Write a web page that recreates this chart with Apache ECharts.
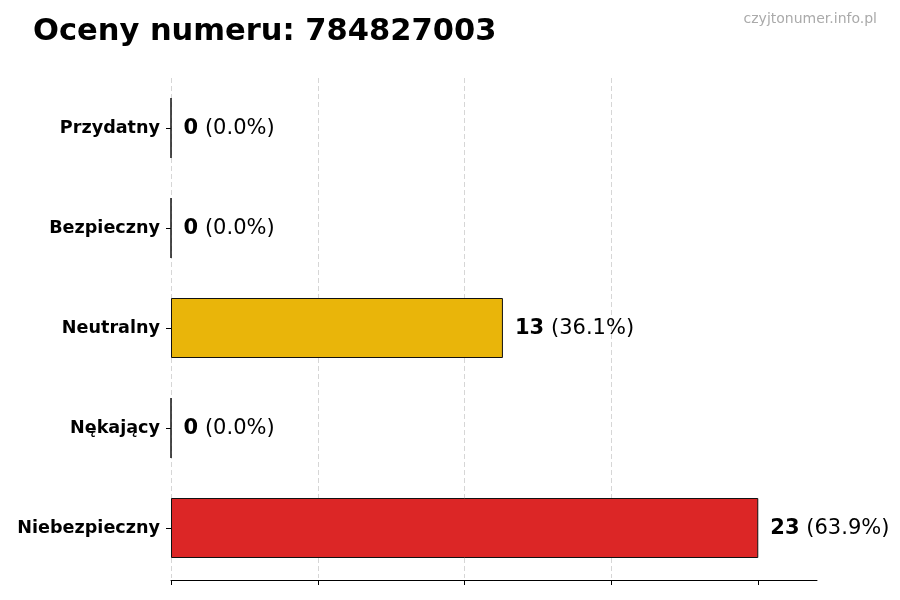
<!DOCTYPE html>
<html>
<head>
<meta charset="utf-8">
<script src="https://cdn.jsdelivr.net/npm/echarts@6/dist/echarts.min.js"></script>
<style>
  html, body { margin: 0; padding: 0; background: #fff; }
  #chart { width: 900px; height: 600px; }
</style>
</head>
<body>
<div id="chart"></div>
<script>
const categories = ['Przydatny', 'Bezpieczny', 'Neutralny', 'Nękający', 'Niebezpieczny'];
const counts = [0, 0, 13, 0, 23];
const barColors = ['#2e9e44', '#3a7bd5', '#e9b50a', '#f07b1c', '#dc2626'];
const titleText = 'Oceny numeru: 784827003';
const siteText = 'czyjtonumer.info.pl';

const total = counts.reduce((sum, value) => sum + value, 0);
const percent = (value) => `${(total ? (value / total) * 100 : 0).toFixed(1)}%`;
const maxCount = Math.max(...counts);
// ticks at quarters of the biggest count, axis runs 10% past it
const tickValues = [0, 1, 2, 3, 4].map((i) => (maxCount / 4) * i);

const chart = echarts.init(document.getElementById('chart'), null, { renderer: 'canvas' });

chart.setOption({
  animation: false,
  backgroundColor: '#fff',
  textStyle: { fontFamily: 'DejaVu Sans' },
  title: [
    { text: titleText, left: 28, top: 12, textStyle: { fontSize: 30.5, fontWeight: 'bold', color: '#000', fontFamily: 'DejaVu Sans' } },
    { text: siteText, right: 18, top: 7, textStyle: { fontSize: 14, fontWeight: 'normal', color: '#aaaaaa', fontFamily: 'DejaVu Sans' } },
  ],
  grid: { left: 171, right: 83, top: 78, bottom: 22 },
  xAxis: {
    type: 'value',
    min: 0,
    max: maxCount * 1.1,
    interval: maxCount / 4,
    offset: 2,
    axisLine: { show: true, lineStyle: { color: '#000', width: 1 } },
    axisTick: { show: true, length: 5, customValues: tickValues, lineStyle: { color: '#000' } },
    axisLabel: { show: false },
    splitLine: { show: true, showMaxLine: false, lineStyle: { color: '#d6d6d6', type: [5, 3], width: 1 } },
  },
  yAxis: {
    type: 'category',
    inverse: true,
    data: categories,
    axisLine: { show: false },
    axisTick: { show: true, length: 5, alignWithLabel: true, lineStyle: { color: '#000' } },
    axisLabel: { color: '#000', fontWeight: 'bold', fontSize: 17.6, margin: 11, fontFamily: 'DejaVu Sans' },
  },
  series: [{
    type: 'bar',
    barWidth: '60%',
    data: counts.map((value, i) => ({
      value,
      itemStyle: { color: barColors[i], borderColor: '#111', borderWidth: 1 },
    })),
    label: {
      show: true,
      position: 'right',
      distance: 12,
      offset: [0, 1],
      formatter: (p) => `{b|${p.value}} {n|(${percent(p.value)})}`,
      rich: {
        b: { fontSize: 21, fontWeight: 'bold', color: '#000', fontFamily: 'DejaVu Sans' },
        n: { fontSize: 21, color: '#000', fontFamily: 'DejaVu Sans', padding: [0, 0, 0, 3] },
      },
    },
  }],
});
</script>
</body>
</html>
